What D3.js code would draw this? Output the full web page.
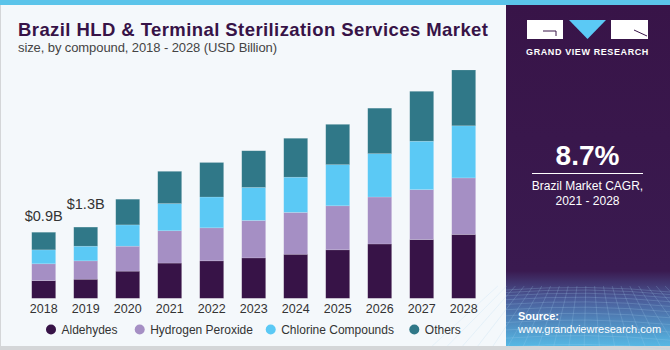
<!DOCTYPE html>
<html>
<head>
<meta charset="utf-8">
<script src="https://cdn.jsdelivr.net/npm/d3@7"></script>
<style>
  body { margin: 0; padding: 0; background: #fff; }
  svg { display: block; font-family: "Liberation Sans", Arial, sans-serif; }
</style>
</head>
<body>
<div id="container"></div>
<script>
let w = 670;
let h = 350;

// data (USD billion)
let years = ["2018", "2019", "2020", "2021", "2022", "2023", "2024", "2025", "2026", "2027", "2028"];
let aldehydes = [0.24, 0.26, 0.37, 0.48, 0.51, 0.55, 0.60, 0.66, 0.74, 0.80, 0.87];
let hydrogenPeroxide = [0.23, 0.25, 0.34, 0.44, 0.45, 0.51, 0.57, 0.60, 0.64, 0.68, 0.77];
let chlorineCompounds = [0.19, 0.20, 0.29, 0.37, 0.42, 0.45, 0.48, 0.56, 0.59, 0.66, 0.71];
let others = [0.24, 0.26, 0.35, 0.44, 0.47, 0.50, 0.53, 0.55, 0.62, 0.68, 0.76];
let seriesNames = ["Aldehydes", "Hydrogen Peroxide", "Chlorine Compounds", "Others"];
let seriesColors = ["#371347", "#a58fc4", "#5bc9f5", "#307888"];
let valueLabels = [{year: "2018", text: "$0.9B"}, {year: "2019", text: "$1.3B"}];

let viz = d3.select("#container")
  .append("svg")
    .attr("width", w)
    .attr("height", h)
;

// background + frame
viz.append("rect").attr("x", 0).attr("y", 0).attr("width", w).attr("height", h).attr("fill", "#d4d6d8");
viz.append("rect").attr("x", 1).attr("y", 0).attr("width", w - 2).attr("height", h - 4).attr("fill", "#f4f8fb");
viz.append("rect").attr("x", 0).attr("y", 0).attr("width", w).attr("height", 5).attr("fill", "#5bc4ea");

// title
viz.append("text")
  .attr("x", 18).attr("y", 36)
  .attr("font-size", 18.5).attr("font-weight", "bold")
  .attr("fill", "#371347")
  .attr("textLength", 470)
  .text("Brazil HLD & Terminal Sterilization Services Market");
viz.append("text")
  .attr("x", 18).attr("y", 52)
  .attr("font-size", 13).attr("fill", "#444")
  .attr("textLength", 259)
  .text("size, by compound, 2018 - 2028 (USD Billion)");

// stack
let table = years.map(function(y, i){
  return {
    year: y,
    "Aldehydes": aldehydes[i],
    "Hydrogen Peroxide": hydrogenPeroxide[i],
    "Chlorine Compounds": chlorineCompounds[i],
    "Others": others[i]
  };
});
let stacked = d3.stack().keys(seriesNames)(table);

let xScale = d3.scaleBand().domain(years).range([22.7, 484.7]).paddingInner(0.43).paddingOuter(0.215);
let yScale = d3.scaleLinear().domain([0, 3.11]).range([298.3, 70]);

let colorScale = d3.scaleOrdinal().domain(seriesNames).range(seriesColors);

let layers = viz.append("g").attr("class", "bars")
  .selectAll("g").data(stacked).enter()
  .append("g")
    .attr("fill", function(d){ return colorScale(d.key); })
;
layers.selectAll("rect").data(function(d){ return d; }).enter()
  .append("rect")
    .attr("x", function(d){ return xScale(d.data.year); })
    .attr("y", function(d){ return yScale(d[1]); })
    .attr("width", xScale.bandwidth())
    .attr("height", function(d){ return yScale(d[0]) - yScale(d[1]); })
    .attr("stroke", "rgba(255,255,255,0.25)")
    .attr("stroke-width", 0.6)
;

// x axis
let xAxis = d3.axisBottom(xScale).tickSize(0).tickPadding(6);
let xAxisGroup = viz.append("g").attr("class", "xaxis")
  .attr("transform", "translate(0, 298.3)")
  .call(xAxis);
xAxisGroup.select(".domain").remove();
xAxisGroup.selectAll("text").attr("font-size", 12.5).attr("fill", "#333").attr("font-family", "Liberation Sans, Arial, sans-serif");

// value labels
let totals = {};
table.forEach(function(d){ totals[d.year] = d3.sum(seriesNames, function(k){ return d[k]; }); });
let labelGap = [11, 18];
viz.selectAll(".vlabel").data(valueLabels).enter()
  .append("text")
    .attr("class", "vlabel")
    .attr("x", function(d){ return xScale(d.year) + xScale.bandwidth() / 2; })
    .attr("y", function(d, i){ return yScale(totals[d.year]) - labelGap[i]; })
    .attr("text-anchor", "middle")
    .attr("font-size", 14.5)
    .attr("fill", "#333")
    .text(function(d){ return d.text; })
;

// legend
let legendX = [51, 139.7, 270.7, 414.3];
let legend = viz.selectAll(".legend").data(seriesNames).enter()
  .append("g").attr("class", "legend")
  .attr("transform", function(d, i){ return "translate(" + legendX[i] + ", 329.5)"; });
legend.append("circle").attr("r", 5).attr("fill", function(d){ return colorScale(d); });
legend.append("text").attr("x", 10.5).attr("y", 4.5).attr("font-size", 12).attr("fill", "#333").text(function(d){ return d; });

// right panel
let defs = viz.append("defs");
let grad = defs.append("linearGradient").attr("id", "panelGrad").attr("x1", 0).attr("y1", 0).attr("x2", 0).attr("y2", 1);
grad.append("stop").attr("offset", "0").attr("stop-color", "#381448");
grad.append("stop").attr("offset", "0.78").attr("stop-color", "#3a1a50");
grad.append("stop").attr("offset", "0.86").attr("stop-color", "#4a5a98");
grad.append("stop").attr("offset", "1").attr("stop-color", "#56b8e4");

let panel = viz.append("g").attr("class", "panel");
panel.append("rect").attr("x", 506).attr("y", 5).attr("width", 164).attr("height", 341).attr("fill", "url(#panelGrad)");

// faint grid in bottom of panel
let grid = panel.append("g").attr("stroke", "rgba(170,210,240,0.35)").attr("stroke-width", 0.6).attr("fill", "none");
d3.range(0, 14).forEach(function(i){
  let y = 290 + i * i * 0.35 + i * 2.2;
  grid.append("path").attr("d", "M506," + y + " Q588," + (y - 6) + " 670," + (y + 2));
});
d3.range(0, 22).forEach(function(i){
  let x = 506 + i * 8;
  grid.append("path").attr("d", "M" + (x + (x - 588) * 0.1) + ",286 L" + (x + (x - 588) * 0.9) + ",346");
});

// logo
panel.append("rect").attr("x", 527).attr("y", 20).attr("width", 36).attr("height", 19).attr("fill", "#fff");
panel.append("path").attr("d", "M543,31 L556,31 L556,36").attr("stroke", "#381448").attr("stroke-width", 1).attr("fill", "none");
panel.append("path").attr("d", "M569,20 L606,20 L587.5,39 Z").attr("fill", "#5bc9f5");
panel.append("rect").attr("x", 611).attr("y", 20).attr("width", 37).attr("height", 19).attr("fill", "#fff");
panel.append("path").attr("d", "M634,30 L647,36").attr("stroke", "#381448").attr("stroke-width", 1);
panel.append("text").attr("x", 587.5).attr("y", 55).attr("text-anchor", "middle")
  .attr("font-size", 9).attr("font-weight", "bold").attr("fill", "#fff").attr("letter-spacing", 0.6)
  .text("GRAND VIEW RESEARCH");

// CAGR
panel.append("text").attr("x", 587.5).attr("y", 165).attr("text-anchor", "middle")
  .attr("font-size", 28).attr("font-weight", "bold").attr("fill", "#fff").text("8.7%");
panel.append("line").attr("x1", 532).attr("x2", 643).attr("y1", 173.5).attr("y2", 173.5).attr("stroke", "#fff").attr("stroke-width", 1);
panel.append("text").attr("x", 587.5).attr("y", 190).attr("text-anchor", "middle")
  .attr("font-size", 12).attr("fill", "#fff").text("Brazil Market CAGR,");
panel.append("text").attr("x", 587.5).attr("y", 205).attr("text-anchor", "middle")
  .attr("font-size", 12).attr("fill", "#fff").text("2021 - 2028");

// source
panel.append("text").attr("x", 518).attr("y", 319.5)
  .attr("font-size", 11).attr("font-weight", "bold").attr("fill", "#fff").text("Source:");
panel.append("text").attr("x", 518).attr("y", 333)
  .attr("font-size", 11).attr("fill", "#fff").text("www.grandviewresearch.com");
</script>
</body>
</html>
